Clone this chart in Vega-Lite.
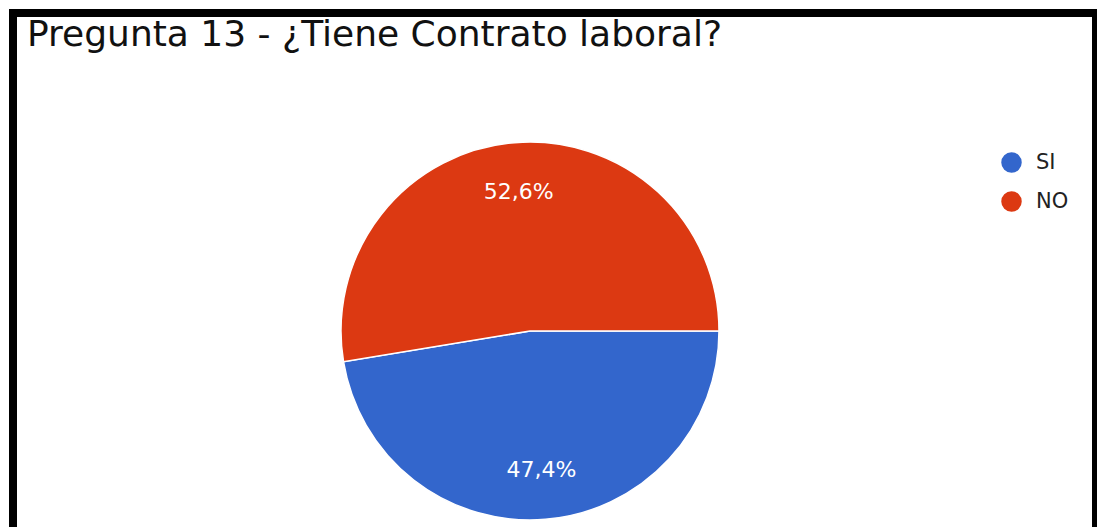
{
  "$schema": "https://vega.github.io/schema/vega-lite/v6.json",
  "autosize": {"type": "none"},
  "width": 1083,
  "height": 530,
  "padding": {"left": 13, "top": 13, "right": 1, "bottom": -16},
  "background": "white",
  "view": {"stroke": "black", "strokeWidth": 8, "fill": "white"},
  "config": {"view": {"stroke": "black", "strokeWidth": 8, "fill": "white"}},
  "title": {
    "text": "Pregunta 13 - ¿Tiene Contrato laboral?",
    "orient": "top",
    "anchor": "start",
    "frame": "group",
    "font": "DejaVu Sans",
    "fontSize": 36,
    "fontWeight": "normal",
    "color": "#111111",
    "baseline": "alphabetic",
    "offset": -34,
    "dy": 35,
    "dx": 14
  },
  "data": {
    "values": [
      {"respuesta": "SI", "porcentaje": 47.4, "etiqueta": "47,4%", "orden": 1},
      {"respuesta": "NO", "porcentaje": 52.6, "etiqueta": "52,6%", "orden": 2}
    ]
  },
  "encoding": {
    "theta": {"field": "porcentaje", "type": "quantitative", "stack": true, "scale": {"range": [1.5708, 7.854]}},
    "order": {"field": "orden", "type": "quantitative"}
  },
  "layer": [
    {
      "mark": {"type": "arc", "radius": 189, "stroke": "white", "strokeWidth": 1.5, "xOffset": -24.5, "yOffset": 53},
      "encoding": {
        "color": {
          "field": "respuesta",
          "type": "nominal",
          "sort": ["SI", "NO"],
          "scale": {"domain": ["SI", "NO"], "range": ["#3366cc", "#dc3912"]},
          "legend": {
            "title": null,
            "orient": "none",
            "legendX": 988,
            "legendY": 139,
            "padding": 0,
            "symbolType": "circle",
            "symbolSize": 420,
            "symbolStrokeWidth": 0,
            "rowPadding": 17,
            "labelOffset": 14,
            "labelFont": "DejaVu Sans",
            "labelFontSize": 21,
            "labelColor": "#222222"
          }
        }
      }
    },
    {
      "mark": {"type": "text", "radius": 139, "xOffset": -24.5, "yOffset": 53, "font": "DejaVu Sans", "fontSize": 22, "baseline": "middle", "align": "center"},
      "encoding": {
        "text": {"field": "etiqueta", "type": "nominal"},
        "color": {"value": "#ffffff"}
      }
    }
  ]
}
